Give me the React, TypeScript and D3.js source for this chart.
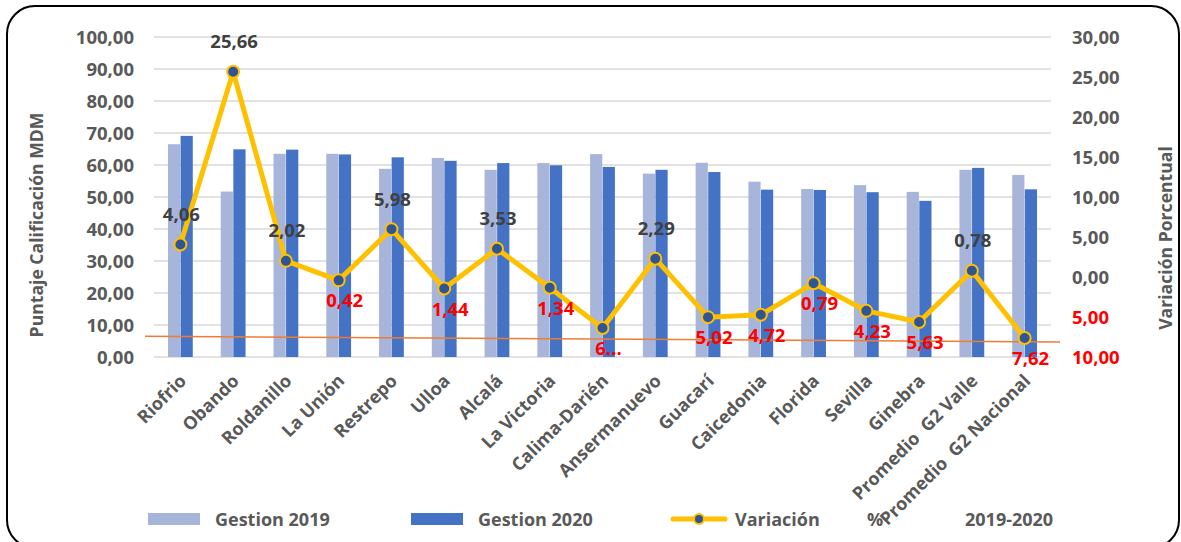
import React from 'react';
import * as d3 from 'd3';

const categories = ["Riofrio", "Obando", "Roldanillo", "La Unión", "Restrepo", "Ulloa", "Alcalá", "La Victoria", "Calima-Darién", "Ansermanuevo", "Guacarí", "Caicedonia", "Florida", "Sevilla", "Ginebra", "Promedio  G2 Valle", "Promedio  G2 Nacional"];
const gestion2019 = [66.5, 51.7, 63.5, 63.5, 58.8, 62.2, 58.5, 60.6, 63.4, 57.3, 60.7, 54.8, 52.5, 53.7, 51.6, 58.5, 56.9];
const gestion2020 = [69.1, 64.9, 64.8, 63.3, 62.4, 61.3, 60.6, 59.9, 59.4, 58.5, 57.8, 52.3, 52.2, 51.5, 48.8, 59.1, 52.4];
const variacion = [4.06, 25.66, 2.02, -0.42, 5.98, -1.44, 3.53, -1.34, -6.38, 2.29, -5.02, -4.72, -0.79, -4.23, -5.63, 0.78, -7.62];
const variacionLabels = ["4,06", "25,66", "2,02", "0,42", "5,98", "1,44", "3,53", "1,34", "6...", "2,29", "5,02", "4,72", "0,79", "4,23", "5,63", "0,78", "7,62"];
const leftTicks = [0, 10, 20, 30, 40, 50, 60, 70, 80, 90, 100];
const rightTicks = [-10, -5, 0, 5, 10, 15, 20, 25, 30];
const refLine = [6.5, 4.7];

const FONT = "'Open Sans', 'DejaVu Sans', sans-serif";
const GRAY = "#595959";
const fmt = (v: number) => d3.format(".2f")(Math.abs(v)).replace(".", ",");

export default function App() {
  const W = 1181, H = 542;
  const x = d3.scaleBand<string>().domain(categories).range([154, 1051]);
  const yL = d3.scaleLinear().domain([0, 100]).range([357, 37]);
  const yR = d3.scaleLinear().domain([-10, 30]).range([357, 37]);
  const cx = (i: number) => (x(categories[i]) as number) + x.bandwidth() / 2;
  const bw = 12.2;

  const line = d3.line<number>().x((_, i) => cx(i)).y((d) => yR(d));

  return (
    <svg width={W} height={H} style={{ position: 'absolute', left: 0, top: 0, background: '#fff' }} fontFamily={FONT}>
      <rect x={7} y={6} width={1172} height={542} rx={28} ry={28} fill="#fff" stroke="#000" strokeWidth={2} />
      {leftTicks.map((t) => (
        <line key={t} x1={154} x2={1051} y1={yL(t)} y2={yL(t)} stroke="#D9D9D9" strokeWidth={1.5} />
      ))}
      {leftTicks.map((t) => (
        <text key={t} x={134} y={yL(t) + 6.5} textAnchor="end" fontSize={18.5} fontWeight="bold" fill={GRAY}>{fmt(t)}</text>
      ))}
      {rightTicks.map((t) => (
        <text key={t} x={1072} y={yR(t) + 6.5} textAnchor="start" fontSize={18.5} fontWeight="bold" fill={t < 0 ? "#FF0000" : GRAY}>{fmt(t)}</text>
      ))}
      <text transform={`translate(43,225) rotate(-90)`} textAnchor="middle" fontSize={17.6} fontWeight="bold" fill={GRAY}>Puntaje Calificación MDM</text>
      <text transform={`translate(1172,238) rotate(-90)`} textAnchor="middle" fontSize={17.6} fontWeight="bold" fill={GRAY}>Variación Porcentual</text>
      {gestion2019.map((v, i) => (
        <rect key={'a' + i} x={cx(i) - bw - 0.2} y={yL(v)} width={bw} height={yL(0) - yL(v)} fill="#A8B5DB" />
      ))}
      {gestion2020.map((v, i) => (
        <rect key={'b' + i} x={cx(i) + 0.2} y={yL(v)} width={bw} height={yL(0) - yL(v)} fill="#4472C4" />
      ))}
      <line x1={154 - 9} x2={1051 + 9} y1={yL(refLine[0])} y2={yL(refLine[1])} stroke="#ED7D31" strokeWidth={1.5} />
      <path d={line(variacion) as string} fill="none" stroke="#FFC000" strokeWidth={5} strokeLinejoin="round" />
      {variacion.map((v, i) => (
        <circle key={'m' + i} cx={cx(i)} cy={yR(v)} r={6} fill="#2F5597" stroke="#FFC000" strokeWidth={2} />
      ))}
      {variacion.map((v, i) => (
        <text key={'l' + i} x={cx(i) + (v < 0 ? 6 : 1)} y={v >= 0 ? yR(v) - 23.5 : yR(v) + 27} textAnchor="middle" fontSize={18.5} fontWeight="bold" fill={v >= 0 ? "#404040" : "#FF0000"}>{variacionLabels[i]}</text>
      ))}
      {categories.map((c, i) => (
        <text key={c} transform={`translate(${cx(i) + 7},${382}) rotate(-45)`} textAnchor="end" fontSize={18} fontWeight="bold" fill={GRAY} style={{ whiteSpace: 'pre' }}>{c}</text>
      ))}
      <rect x={148} y={513} width={52} height={12} fill="#A8B5DB" />
      <text x={215} y={525.5} fontSize={18} fontWeight="bold" fill={GRAY}>Gestion 2019</text>
      <rect x={411} y={513} width={52} height={12} fill="#4472C4" />
      <text x={478} y={525.5} fontSize={18} fontWeight="bold" fill={GRAY}>Gestion 2020</text>
      <line x1={673} x2={725} y1={519} y2={519} stroke="#FFC000" strokeWidth={5} strokeLinecap="round" />
      <circle cx={699} cy={519} r={5} fill="#2F5597" stroke="#FFC000" strokeWidth={2} />
      <text x={735} y={525.5} fontSize={18} fontWeight="bold" fill={GRAY}>Variación</text>
      <text x={867} y={525.5} fontSize={18} fontWeight="bold" fill={GRAY}>%</text>
      <text x={965} y={525.5} fontSize={18} fontWeight="bold" fill={GRAY}>2019-2020</text>
    </svg>
  );
}
